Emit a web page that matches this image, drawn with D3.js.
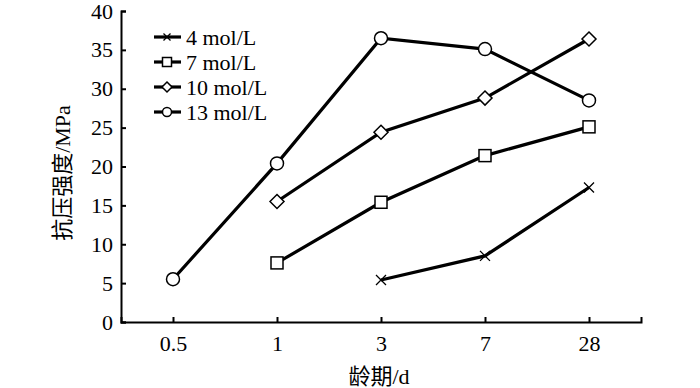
<!DOCTYPE html>
<html><head><meta charset="utf-8">
<script src="https://cdn.jsdelivr.net/npm/d3@7"></script>
<style>body{margin:0;background:#fff}svg{display:block}
svg text{font-family:"Liberation Serif","DejaVu Serif","Noto Sans CJK SC",serif;}</style>
</head><body><svg id="c" width="700" height="388"></svg>
<script>
const categories = ["0.5", "1", "3", "7", "28"];
const seriesNames = ["4 mol/L", "7 mol/L", "10 mol/L", "13 mol/L"];
const s4 = [null, null, 5.4, 8.5, 17.3];
const s7 = [null, 7.6, 15.4, 21.4, 25.1];
const s10 = [null, 15.5, 24.4, 28.8, 36.4];
const s13 = [5.5, 20.4, 36.5, 35.1, 28.5];
const yTicks = [0, 5, 10, 15, 20, 25, 30, 35, 40];
const markers = ["x", "square", "diamond", "circle"];
const allSeries = [s4, s7, s10, s13];

const svg = d3.select("#c");
const x = d3.scalePoint().domain(categories).range([121, 641]).padding(0.5);
const y = d3.scaleLinear().domain([0, 40]).range([322, 11]);

// axes
const gx = svg.append("g").attr("transform", "translate(0,322)")
  .call(d3.axisBottom(x).tickSize(-5).tickPadding(13));
const gy = svg.append("g").attr("transform", "translate(121,0)")
  .call(d3.axisLeft(y).tickValues(yTicks).tickSize(-5).tickPadding(8));
[gx, gy].forEach(g => {
  g.attr("font-family", null).attr("font-size", null);
  g.select(".domain").attr("stroke", "#000").attr("stroke-width", 2);
  g.selectAll(".tick line").attr("stroke", "#000").attr("stroke-width", 2);
  g.selectAll("text").style("font-size", "22px").attr("fill", "#000");
});
gx.selectAll("text").attr("dy", "0.71em");

// axis titles
svg.append("text").attr("x", 379).attr("y", 384).attr("text-anchor", "middle")
  .style("font-size", "22px").text("龄期/d");
svg.append("text").attr("transform", "translate(70,173) rotate(-90)").attr("text-anchor", "middle")
  .style("font-size", "22px").text("抗压强度/MPa");

function drawMarker(g, type, cx, cy, s) {
  if (type === "x") {
    g.append("path").attr("d", `M${cx-s},${cy-s}L${cx+s},${cy+s}M${cx-s},${cy+s}L${cx+s},${cy-s}`)
      .attr("stroke", "#000").attr("stroke-width", 1.3).attr("fill", "none");
  } else if (type === "square") {
    g.append("rect").attr("x", cx - s).attr("y", cy - s).attr("width", 2 * s).attr("height", 2 * s)
      .attr("fill", "#fff").attr("stroke", "#000").attr("stroke-width", 1.5);
  } else if (type === "diamond") {
    g.append("path").attr("d", `M${cx},${cy-s}L${cx+s},${cy}L${cx},${cy+s}L${cx-s},${cy}Z`)
      .attr("fill", "#fff").attr("stroke", "#000").attr("stroke-width", 1.5);
  } else {
    g.append("circle").attr("cx", cx).attr("cy", cy).attr("r", s)
      .attr("fill", "#fff").attr("stroke", "#000").attr("stroke-width", 1.5);
  }
}

const line = d3.line().defined(d => d.v != null).x(d => x(d.c)).y(d => y(d.v));
const sizes = {x: 5, square: 6, diamond: 7, circle: 6.5};
allSeries.forEach((vals, i) => {
  const data = vals.map((v, j) => ({c: categories[j], v}));
  svg.append("path").datum(data).attr("d", line).attr("fill", "none")
    .attr("stroke", "#000").attr("stroke-width", 3.2);
  const g = svg.append("g");
  data.filter(d => d.v != null).forEach(d => drawMarker(g, markers[i], x(d.c), y(d.v), sizes[markers[i]]));
});

// legend
const lsizes = {x: 3.5, square: 4.5, diamond: 5, circle: 4.5};
seriesNames.forEach((name, i) => {
  const cy = 37 + i * 25;
  const g = svg.append("g");
  g.append("line").attr("x1", 154).attr("x2", 181).attr("y1", cy).attr("y2", cy)
    .attr("stroke", "#000").attr("stroke-width", 3.2);
  drawMarker(g, markers[i], 167, cy, lsizes[markers[i]]);
  g.append("text").attr("x", 186).attr("y", cy + 8).style("font-size", "22px").text(name);
});
</script></body></html>
